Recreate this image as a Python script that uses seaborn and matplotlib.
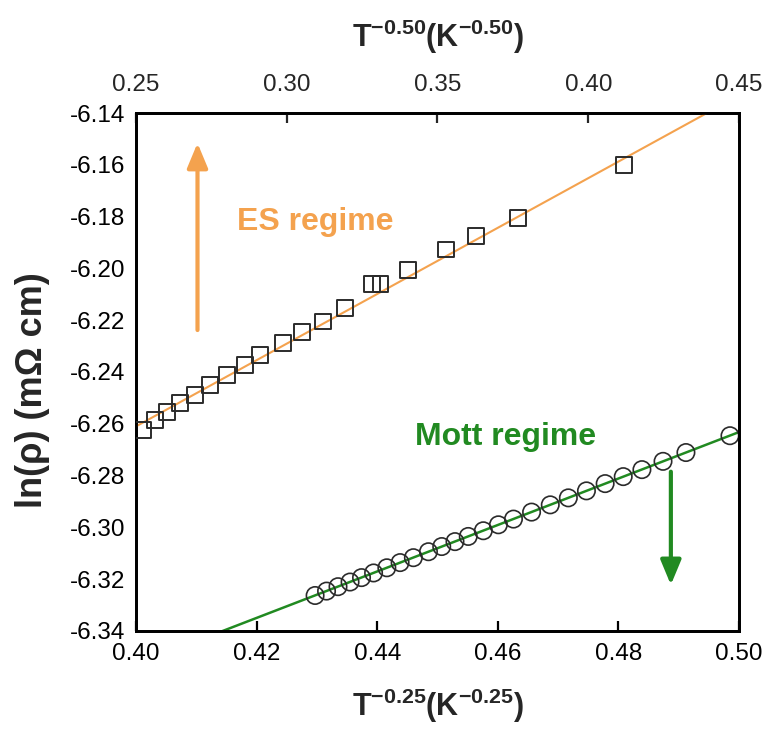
import numpy as np
import pandas as pd
import matplotlib
matplotlib.use("Agg")
import matplotlib.pyplot as plt
import seaborn as sns

# ── Data ──────────────────────────────────────────────────────────────────────
# ES regime: ln(rho) vs T^-0.50 (top axis)
es_x = [0.2524, 0.2563, 0.2602, 0.2646, 0.2696, 0.2745, 0.2801, 0.2862, 0.2911, 0.2989,
        0.3050, 0.3121, 0.3193, 0.3284, 0.3311, 0.3403, 0.3528, 0.3628, 0.3766, 0.4120]
es_y = [-6.2624, -6.2585, -6.2553, -6.2521, -6.2489, -6.2450, -6.2412, -6.2373, -6.2334, -6.2289,
        -6.2244, -6.2205, -6.2154, -6.2062, -6.2062, -6.2008, -6.1927, -6.1873, -6.1805, -6.1601]

# Mott regime: ln(rho) vs T^-0.25 (bottom axis)
mott_x = [0.4297, 0.4316, 0.4335, 0.4355, 0.4374, 0.4394, 0.4416, 0.4438, 0.4460, 0.4485,
          0.4507, 0.4529, 0.4551, 0.4576, 0.4601, 0.4626, 0.4656, 0.4687, 0.4717, 0.4747,
          0.4778, 0.4808, 0.4839, 0.4874, 0.4912, 0.4985]
mott_y = [-6.3263, -6.3246, -6.3229, -6.3211, -6.3194, -6.3176, -6.3156, -6.3136, -6.3117, -6.3094,
          -6.3074, -6.3055, -6.3035, -6.3013, -6.2990, -6.2968, -6.2941, -6.2913, -6.2886, -6.2859,
          -6.2831, -6.2804, -6.2777, -6.2745, -6.2711, -6.2646]

# linear fits (slope, intercept) as drawn in the figure
es_fit   = (0.639, -6.42075)
mott_fit = (0.897, -6.7117)

bottom_ticks = [0.40, 0.42, 0.44, 0.46, 0.48, 0.50]
top_ticks    = [0.25, 0.30, 0.35, 0.40, 0.45]
y_ticks      = [-6.34, -6.32, -6.30, -6.28, -6.26, -6.24, -6.22, -6.20, -6.18, -6.16, -6.14]

ORANGE = "#F4A24E"
GREEN  = "#218A21"
EDGE   = "#2b2b2b"

sns.set_style("white")
plt.rcParams["font.family"] = ["Liberation Sans", "DejaVu Sans"]
plt.rcParams["mathtext.fontset"] = "custom"
plt.rcParams["mathtext.rm"] = "Liberation Sans"
plt.rcParams["mathtext.bf"] = "Liberation Sans:bold"

fig, ax = plt.subplots(figsize=(7.67, 7.33), dpi=100)
fig.subplots_adjust(left=0.1773, right=0.9635, bottom=0.1392, top=0.8458)
ax_top = ax.twiny()

# ── fit lines ────────────────────────────────────────────────────────────────
xb = np.array([bottom_ticks[0], bottom_ticks[-1]])
xt = np.array([top_ticks[0], top_ticks[-1]])
fit_df_m = pd.DataFrame({"x": xb, "y": mott_fit[0] * xb + mott_fit[1]})
fit_df_e = pd.DataFrame({"x": xt, "y": es_fit[0] * xt + es_fit[1]})
sns.lineplot(data=fit_df_m, x="x", y="y", ax=ax, color=GREEN, lw=1.8, zorder=2)
sns.lineplot(data=fit_df_e, x="x", y="y", ax=ax_top, color=ORANGE, lw=1.5, zorder=2)

# ── data points ──────────────────────────────────────────────────────────────
sns.scatterplot(x=mott_x, y=mott_y, ax=ax, marker="o", s=12.5**2,
                facecolor="none", edgecolor=EDGE, linewidth=1.2, zorder=3)
sns.scatterplot(x=es_x, y=es_y, ax=ax_top, marker="s", s=11.5**2,
                facecolor="none", edgecolor=EDGE, linewidth=1.4, zorder=3)

# ── axes ─────────────────────────────────────────────────────────────────────
ax.set_xlim(bottom_ticks[0], bottom_ticks[-1])
ax_top.set_xlim(top_ticks[0], top_ticks[-1])
ax.set_ylim(y_ticks[0], y_ticks[-1])
ax_top.set_ylim(y_ticks[0], y_ticks[-1])
ax.set_xticks(bottom_ticks)
ax.set_xticklabels([f"{t:.2f}" for t in bottom_ticks])
ax_top.set_xticks(top_ticks)
ax_top.set_xticklabels([f"{t:.2f}" for t in top_ticks])
ax.set_yticks(y_ticks)
ax.set_yticklabels([f"{t:.2f}" for t in y_ticks])

ax.tick_params(axis="both", direction="in", length=7, width=1.6, labelsize=17.5,
               colors="black", right=False, top=False)
ax.tick_params(axis="x", pad=9)
ax.tick_params(axis="y", pad=8)
ax_top.tick_params(axis="x", direction="in", length=7, width=1.6, labelsize=17.5, pad=12)
ax_top.tick_params(axis="y", left=False, right=False, labelleft=False, labelright=False)

for a in (ax, ax_top):
    for sp in a.spines.values():
        sp.set_linewidth(2.0)
        sp.set_color("black")

ax.set_xlabel(r"$\mathbf{T^{-0.25}(K^{-0.25})}$", fontsize=22)
ax.xaxis.set_label_coords(0.5, -0.108)
ax_top.set_xlabel(r"$\mathbf{T^{-0.50}(K^{-0.50})}$", fontsize=22)
ax_top.xaxis.set_label_coords(0.5, 1.127)
ax.set_ylabel("ln(\u03c1) (m\u03a9 cm)", fontsize=26, fontweight="bold")
ax.yaxis.set_label_coords(-0.143, 0.465)

# ── annotations ──────────────────────────────────────────────────────────────
ax.annotate("", xy=(0.4102, -6.1516), xytext=(0.4102, -6.2238),
            arrowprops=dict(arrowstyle="-|>,head_length=0.6,head_width=0.25",
                            color=ORANGE, lw=3, mutation_scale=25,
                            shrinkA=0, shrinkB=0))
ax.annotate("", xy=(0.4887, -6.3222), xytext=(0.4887, -6.2785),
            arrowprops=dict(arrowstyle="-|>,head_length=0.6,head_width=0.25",
                            color=GREEN, lw=3, mutation_scale=25,
                            shrinkA=0, shrinkB=0))
ax.text(0.4167, -6.1852, "ES regime", color=ORANGE, fontsize=23,
        fontweight="bold", va="baseline", ha="left")
ax.text(0.4463, -6.2682, "Mott regime", color=GREEN, fontsize=23,
        fontweight="bold", va="baseline", ha="left")

plt.savefig("out.png", dpi=100)
plt.close()
